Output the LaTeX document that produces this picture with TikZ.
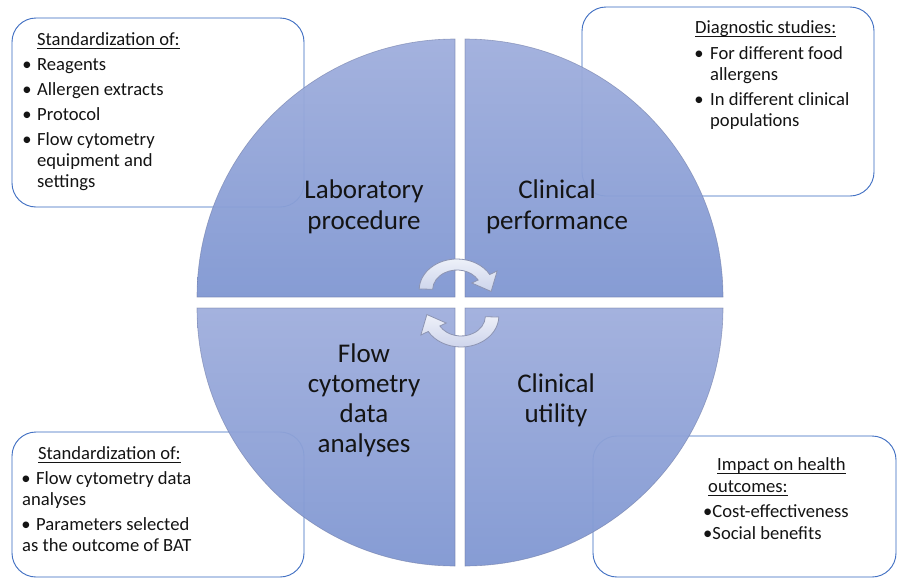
\documentclass[tikz,border=0pt]{standalone}
\usepackage{fontspec}
\setmainfont{Carlito}
\definecolor{boxblue}{RGB}{68,114,196}
\definecolor{qtop}{RGB}{164,178,222}
\definecolor{qbot}{RGB}{134,156,212}
\definecolor{qedge}{RGB}{110,122,165}
\definecolor{arrtop}{RGB}{238,241,249}
\definecolor{arrbot}{RGB}{205,212,235}
\definecolor{arredge}{RGB}{140,148,178}
\definecolor{txt}{RGB}{20,20,20}
\begin{document}
\begin{tikzpicture}[x=1pt,y=-1pt,
  infobox/.style={draw=boxblue,line width=0.9pt,rounded corners=24pt,fill=white},
  ghost/.style={draw=boxblue,draw opacity=0.12,line width=0.9pt,rounded corners=24pt},
  quad/.style={top color=qtop,bottom color=qbot,draw=qedge,draw opacity=0.6,line width=0.6pt},
  cyc/.style={top color=arrtop,bottom color=arrbot,draw=arredge,line width=0.8pt},
  big/.style={inner sep=0pt,anchor=base,text=txt,font=\fontsize{27}{30}\selectfont},
  small/.style={inner sep=0pt,anchor=base west,text=txt,font=\fontsize{18.6}{22}\selectfont},
  bul/.style={inner sep=0pt,anchor=base,text=txt,font=\fontsize{18.6}{22}\selectfont},
  uline/.style={line width=0.9pt,draw=txt}
]
\useasboundingbox (0,0) rectangle (898,579);
\fill[white] (0,0) rectangle (898,579);

% info boxes
\draw[infobox] (12,18) rectangle (304,207);
\draw[infobox] (582,7) rectangle (874,196);
\draw[infobox] (12,432) rectangle (304,577);
\draw[infobox] (593,436) rectangle (896,577);

% quadrants
\path[quad] (455,297) -- (197,297) arc[start angle=180,end angle=270,radius=258] -- cycle;
\path[quad] (465,297) -- (465,39) arc[start angle=270,end angle=360,radius=258] -- cycle;
\path[quad] (455,308) -- (197,308) arc[start angle=180,end angle=90,radius=258] -- cycle;
\path[quad] (465,308) -- (723,308) arc[start angle=0,end angle=90,radius=258] -- cycle;

% faint box outlines seen through the circle
\draw[ghost] (12,18) rectangle (304,207);
\draw[ghost] (582,7) rectangle (874,196);
\draw[ghost] (12,432) rectangle (304,577);
\draw[ghost] (593,436) rectangle (896,577);

% cycle arrows
\begin{scope}[shift={(457,290)},xscale=1.22]
\path[cyc] (182:31) arc[start angle=182,end angle=330,radius=31] -- (330:38) -- (3:28) -- (330:14) -- (330:20) arc[start angle=330,end angle=182,radius=20] -- cycle;
\end{scope}
\begin{scope}[shift={(461,316)},xscale=1.22]
\path[cyc] (2:31) arc[start angle=2,end angle=150,radius=31] -- (150:38) -- (183:28) -- (150:14) -- (150:20) arc[start angle=150,end angle=2,radius=20] -- cycle;
\end{scope}

% main labels
\node[big] (lab1) at (364,198) {Laboratory};
\node[big] (lab2) at (364,229) {procedure};
\node[big] (cp1) at (557,198) {Clinical};
\node[big] (cp2) at (557,229) {performance};
\node[big] (fc1) at (364,362) {Flow};
\node[big] (fc2) at (364,392) {cytometry};
\node[big] (fc3) at (364,422) {data};
\node[big] (fc4) at (364,452) {analyses};
\node[big] (cu1) at (556,392) {Clinical};
\node[big] (cu2) at (556,422) {utility};

% box 1
\node[small] (b1t) at (37,45) {Standardization of:};
\draw[uline] ([yshift=-3.5pt]b1t.base west) -- ([yshift=-3.5pt]b1t.base east);
\node[bul] (b1a) at (27,70) {•};
\node[small] (b1at) at (37,70) {Reagents};
\node[bul] (b1b) at (27,95) {•};
\node[small] (b1bt) at (37,95) {Allergen extracts};
\node[bul] (b1c) at (27,120) {•};
\node[small] (b1ct) at (37,120) {Protocol};
\node[bul] (b1d) at (27,145) {•};
\node[small] (b1dt) at (37,145) {Flow cytometry};
\node[small] (b1dt2) at (37,166) {equipment and};
\node[small] (b1dt3) at (37,187) {settings};

% box 2
\node[small] (b2t) at (695,33) {Diagnostic studies:};
\draw[uline] ([yshift=-3pt]b2t.base west) -- ([yshift=-3pt]b2t.base east);
\node[bul] (b2a) at (699,59) {•};
\node[small] (b2at) at (710,59) {For different food};
\node[small] (b2at2) at (710,80) {allergens};
\node[bul] (b2b) at (699,105) {•};
\node[small] (b2bt) at (710,105) {In different clinical};
\node[small] (b2bt2) at (710,126) {populations};

% box 3
\node[small] (b3t) at (38,459) {Standardization of:};
\draw[uline] ([yshift=-3.5pt]b3t.base west) -- ([yshift=-3.5pt]b3t.base east);
\node[bul] (b3a) at (26,484) {•};
\node[small] (b3at) at (36,484) {Flow cytometry data};
\node[small] (b3at2) at (22,505) {analyses};
\node[bul] (b3b) at (26,530) {•};
\node[small] (b3bt) at (36,530) {Parameters selected};
\node[small] (b3bt2) at (22,551) {as the outcome of BAT};

% box 4
\node[small] (b4t) at (717,470) {Impact on health};
\draw[uline] ([yshift=-3.5pt]b4t.base west) -- ([yshift=-3.5pt]b4t.base east);
\node[small] (b4t2) at (708,492) {outcomes:};
\draw[uline] ([yshift=-3.5pt]b4t2.base west) -- ([yshift=-3.5pt]b4t2.base east);
\node[small] (b4a) at (703,517) {•Cost-effectiveness};
\node[small] (b4b) at (703,539) {•Social benefits};
\end{tikzpicture}
\end{document}
